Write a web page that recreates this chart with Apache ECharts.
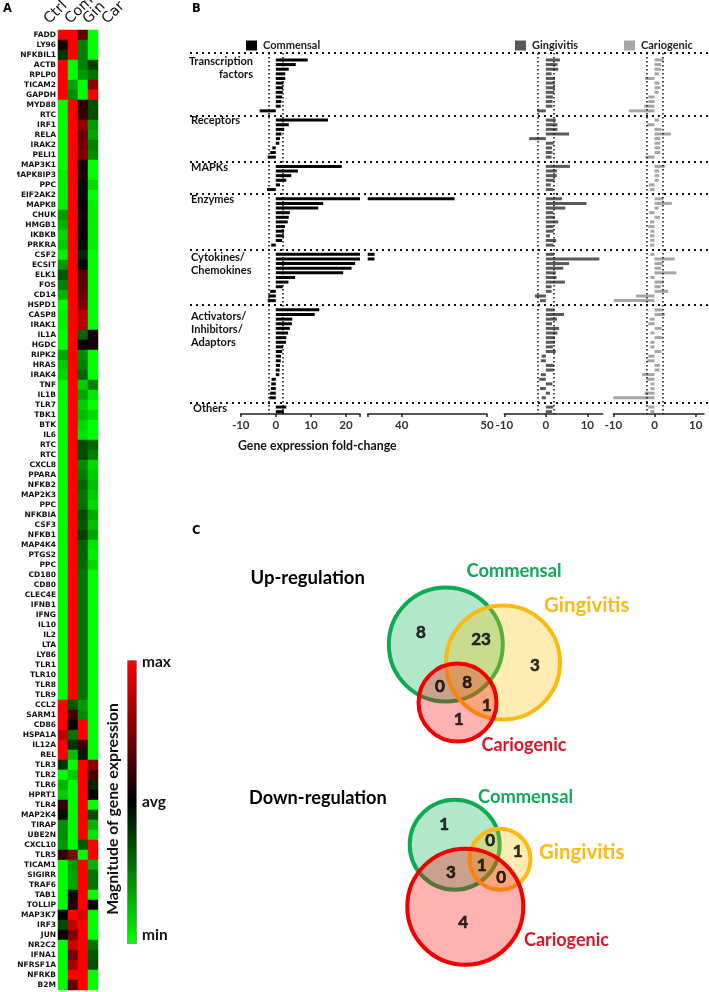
<!DOCTYPE html>
<html><head><meta charset="utf-8">
<style>html,body{margin:0;padding:0;background:#fff}#c{width:709px;height:992px}</style>
<script src="https://cdn.jsdelivr.net/npm/echarts@6/dist/echarts.min.js"></script>
</head><body><div id="c"></div>
<script>
// ---------- Panel A data ----------
const columns = ['Ctrl','Com','Gin','Car'];
const genes = ['FADD','LY96','NFKBIL1','ACTB','RPLP0','TICAM2','GAPDH','MYD88','RTC','IRF1','RELA','IRAK2','PELI1','MAP3K1','MAPK8IP3','PPC','EIF2AK2','MAPK8','CHUK','HMGB1','IKBKB','PRKRA','CSF2','ECSIT','ELK1','FOS','CD14','HSPD1','CASP8','IRAK1','IL1A','HGDC','RIPK2','HRAS','IRAK4','TNF','IL1B','TLR7','TBK1','BTK','IL6','RTC','RTC','CXCL8','PPARA','NFKB2','MAP2K3','PPC','NFKBIA','CSF3','NFKB1','MAP4K4','PTGS2','PPC','CD180','CD80','CLEC4E','IFNB1','IFNG','IL10','IL2','LTA','LY86','TLR1','TLR10','TLR8','TLR9','CCL2','SARM1','CD86','HSPA1A','IL12A','REL','TLR3','TLR2','TLR6','HPRT1','TLR4','MAP2K4','TIRAP','UBE2N','CXCL10','TLR5','TICAM1','SIGIRR','TRAF6','TAB1','TOLLIP','MAP3K7','IRF3','JUN','NR2C2','IFNA1','NFRSF1A','NFRKB','B2M'];
const ctrl = [1,.1,-.2,1,1,1,1,-1,-1,-1,-1,-1,-1,-1,-.95,-.95,-.95,-.95,-.6,-.7,-.85,-.8,-.95,-.6,-.35,-.5,-.7,-1,-.95,-.95,-1,-1,-.65,-.8,-.85,-1,-1,-1,-1,-1,-1,-1,-1,-1,-1,-1,-1,-1,-1,-1,-1,-1,-1,-1,-1,-1,-1,-1,-1,-1,-1,-1,-1,-1,-1,-1,-1,1,1,1,.75,1,1,-.2,-1,-.7,-.8,.2,-.05,-.55,-.55,-.6,.2,-1,-1,-1,-1,-1,0,-.3,-.02,-1,-1,-1,-1,-1];
const com = [1,1,1,-1,-1,-.65,-.55,1,1,1,1,1,1,1,1,1,1,1,1,1,1,1,1,1,1,1,1,1,1,1,1,1,1,1,1,1,1,1,1,1,1,1,1,1,1,1,1,1,1,1,1,1,1,1,1,1,1,1,1,1,1,1,1,1,1,1,1,-.35,.25,.02,-.45,-.2,-.75,-1,-.8,-1,-1,-1,-1,-1,-1,-1,.5,-.6,-.65,-.65,-.05,.15,1,.75,.5,.8,.45,.65,1,.4];
const gin = [.35,-.5,-.5,-.5,-.6,-1,-1,.15,.2,.55,.4,.45,.5,.08,.12,-.05,-.05,0,.08,.05,.03,-.05,-.15,-.02,.35,.35,.4,.5,.7,.7,-.4,.05,-.55,-.5,-.4,-.8,-.65,-.8,-.75,-.85,-.9,-.3,-.3,-.55,-.5,-.4,-.45,-.45,-.3,-.35,-.25,-.4,-.4,-.42,-.45,-.45,-.45,-.45,-.45,-.45,-.45,-.45,-.45,-.45,-.45,-.45,-.45,-.6,-.55,1,1,.25,-.1,1,1,1,1,1,1,1,1,-.35,-1,1,1,1,1,1,.85,1,1,1,1,1,1,1];
const car = [-1,-1,-1,-.25,-.45,.55,1,-.3,-.3,-.6,-.65,-.5,-.55,-1,-1,-.85,-1,-.95,-.95,-.95,-.95,-.95,-1,-1,-1,-1,-1,-1,-1,-1,.08,.1,-1,-1,-1,-.5,-.9,-1,-.85,-1,-1,-.4,-.5,-.85,-.8,-.75,-.8,-.85,-.65,-.75,-.65,-.9,-.95,-.85,-1,-1,-1,-1,-1,-1,-1,-1,-1,-1,-1,-1,-1,-1,-1,-1,-1,-1,-1,.55,.3,-.15,0,-1,-.3,-.7,-.9,1,1,-.7,-.45,-.45,-1,-.02,-1,-1,-1,-.45,-.35,-.3,-1,-1];

// ---------- Panel B data ----------
const groupNames = ['Transcription factors','Receptors','MAPKs','Enzymes','Cytokines/Chemokines','Activators/Inhibitors/Adaptors','Others'];
const groupSizes = [12,9,6,11,11,20,2];
const commensal = [9.1,5.7,3.7,2.7,2.7,2.2,2.1,2,1.8,1.6,1.4,-4.6, 14.9,3.7,2.4,1.6,1.2,1,-1,-1.6,-2.3, 18.8,6.3,4.4,3,1.2,-2.5, 46.2,13.5,12.1,4,3.7,3.4,2.6,2.4,2.3,1.8,-1.3, 36.8,36.8,22.6,21.6,19.2,5.5,3.6,2,-1.6,-2.1,-2.3, 12.4,11.1,4.7,4.6,4,3.5,3,2.9,2.1,1.8,1.5,1.4,1.2,1.1,1,-1.2,-1.3,-1.4,-1.6,-1.8, 3,2.3];
const gingivitis = [3.4,2.8,3,1.4,2.2,2.2,2.2,2,1.7,1.6,1.6,-2.1, 2.4,2.8,2.8,5.6,-4,1.9,1.5,1.6,1.4, 5.8,2.7,2.65,2.1,1.2,1.8, 3.9,9.8,4.7,1.8,2.2,3,1.8,1.9,1,2.5,1.8, 2,12.9,5.6,4.2,2.4,2.6,4.6,1.4,1.4,-2.6,-1.4, 2.1,4.4,2.7,1.5,3.2,2.8,2.2,2.2,1.7,2.4,-1,-1.2,1.9,1.9,-1.2,-1.6,1.6,-1.4,1,-1, 1.8,1.5];
const cariogenic = [2.2,1.6,1.5,1.1,-2.3,1.2,1.4,1,-1.5,-1.5,-2.5,-6.2, 1.1,-1.8,1.7,4,1.4,1.4,1.4,1.4,-2.2, 2.5,1.1,1.1,1,-1.4,-1.1, 2.1,4.2,1,-1.3,1.3,-1.1,-1.5,-1,-1.1,-1,-1.1, -1,4.9,2,1.6,5.3,-1,2.2,1.5,3.3,-4.5,-9.9, 1.9,2.5,-1.2,-1.5,1.7,-1,1.8,-1,-1,1.7,-1.5,-1.8,1.3,1.2,-3,-1.9,-1,-1,-2.4,-10, -1.5,-1];
const foldThreshold = 2;

// ---------- Panel C data ----------
const vennSets = ['Commensal','Gingivitis','Cariogenic'];
const vennUpCounts = [8,23,3,0,8,1,1];
const vennDownCounts = [1,0,1,3,1,0,4];

// ---------- Helpers ----------
const LATO = 'Lato, "Open Sans", sans-serif';
const heatData = [];
genes.forEach((g,i)=>{[ctrl,com,gin,car].forEach((s,j)=>heatData.push([j,i,s[i]]));});

const slots = [''];
const sepValues = [0];
let cursor = 1;
groupSizes.forEach((n,gi)=>{
  for(let k=0;k<n;k++) slots.push('r'+(slots.length));
  cursor += n;
  if(gi<groupSizes.length-1){ slots.push('gap'+gi); sepValues.push(cursor+.5); cursor++; }
});
function slotted(values){
  const out=[null]; let p=0;
  groupSizes.forEach((n,gi)=>{
    for(let k=0;k<n;k++) out.push(values[p++]);
    if(gi<groupSizes.length-1) out.push(null);
  });
  return out;
}
const barGrids = [
  {left:240.7,width:119.3,min:-10,max:24,ticks:[-10,0,10,20,24],labels:[-10,0,10,20],data:commensal,name:'Commensal',color:'#000',lines:true},
  {left:367.7,width:119.3,min:36,max:50,ticks:[36,40,50],labels:[40,50],data:commensal,name:'Commensal',color:'#000',lines:false},
  {left:504.3,width:98.4,min:-10,max:13.7,ticks:[-10,0,10],labels:[-10,0,10],data:gingivitis,name:'Gingivitis',color:'#595959',lines:true},
  {left:613.3,width:90.7,min:-10,max:12,ticks:[-10,0,10],labels:[-10,0,10],data:cariogenic,name:'Cariogenic',color:'#a6a6a6',lines:true}
];
const TOP=53, HEIGHT=361;

const grid=[{left:58,top:30,width:40,height:960}];
const xAxis=[{type:'category',gridIndex:0,data:columns,show:false}];
const yAxis=[{type:'category',gridIndex:0,data:genes,inverse:true,axisLine:{show:false},axisTick:{show:false},
  axisLabel:{interval:0,margin:2,fontFamily:'"DejaVu Sans"',fontWeight:'bold',fontSize:7.5,color:'#111'}}];
const series=[{type:'heatmap',name:'expression',xAxisIndex:0,yAxisIndex:0,data:heatData,silent:true,progressive:0,z:1}];

barGrids.forEach((b,i)=>{
  const gi=i+1;
  grid.push({left:b.left,top:TOP,width:b.width,height:HEIGHT});
  xAxis.push({type:'value',gridIndex:gi,min:b.min,max:b.max,position:'bottom',splitLine:{show:false},
    axisLine:{show:true,onZero:false,lineStyle:{color:'#222',width:1.5}},
    axisTick:{show:true,length:3,customValues:b.ticks,lineStyle:{color:'#222',width:1.5}},
    axisLabel:{customValues:b.labels,margin:5,fontFamily:LATO,fontWeight:'bold',fontSize:11.5,color:'#333',showMinLabel:true,showMaxLabel:true}});
  yAxis.push({type:'category',gridIndex:gi,data:slots,inverse:true,show:false});
  const s={type:'bar',name:b.name,xAxisIndex:gi,yAxisIndex:gi,data:slotted(b.data),barWidth:3,
    itemStyle:{color:b.color},silent:true,clip:true,z:2};
  if(b.lines) s.markLine={silent:true,symbol:'none',label:{show:false},animation:false,
    lineStyle:{type:[1.5,2.5],width:1.5,color:'#111'},
    data:[{xAxis:-foldThreshold},{xAxis:foldThreshold}]};
  series.push(s);
});

grid.push({left:190,right:0,top:TOP,height:HEIGHT});
xAxis.push({type:'value',gridIndex:5,min:0,max:1,show:false});
yAxis.push({type:'value',gridIndex:5,min:0,max:slots.length,inverse:true,show:false});
series.push({type:'line',name:'separators',xAxisIndex:5,yAxisIndex:5,data:[[0,0]],symbol:'none',silent:true,z:3,
  markLine:{silent:true,symbol:'none',label:{show:false},animation:false,
    lineStyle:{type:[2,4],width:2,color:'#111'},
    data:sepValues.map(v=>({yAxis:v}))}});

grid.push({left:0,top:0,width:709,height:992});
xAxis.push({type:'value',gridIndex:6,min:0,max:709,show:false});
yAxis.push({type:'value',gridIndex:6,min:0,max:992,inverse:true,show:false});
const vennColors={Commensal:['rgba(0,176,80,0.3)','#0caa52'],Gingivitis:['rgba(255,192,0,0.3)','#fdb913'],Cariogenic:['rgba(255,0,0,0.3)','#f00000']};
const vennCircles=[
  ['Commensal',445.8,644.5,114],['Gingivitis',503,662.5,114],['Cariogenic',457.5,702.5,78],
  ['Commensal',454.7,844.7,90],['Gingivitis',500,859.3,61],['Cariogenic',465.3,906.7,116]
];
series.push({type:'scatter',name:'venn',xAxisIndex:6,yAxisIndex:6,silent:true,clip:false,z:4,
  symbolSize:d=>d[2],
  data:vennCircles.map(c=>({value:[c[1],c[2],c[3]],itemStyle:{color:vennColors[c[0]][0],borderColor:vennColors[c[0]][1],borderWidth:4,opacity:1}}))});
const vennSpots=[[421,632.3],[481,640],[535,666],[440,686.7],[467.3,682.7],[486.7,705.3],[458.7,720]];
const vennSpotsDown=[[444.3,825],[490.3,840.7],[517.7,851.7],[451,872.3],[481.7,865.7],[501.3,877.3],[463.3,922.7]];
series.push({type:'scatter',name:'venn counts',xAxisIndex:6,yAxisIndex:6,silent:true,clip:false,z:5,symbolSize:1,
  itemStyle:{color:'rgba(0,0,0,0)'},
  label:{show:true,position:'inside',formatter:p=>String(p.value[2]),fontFamily:LATO,fontWeight:'bold',fontSize:17,color:'#000',textBorderColor:'#000',textBorderWidth:0.6},
  data:vennSpots.map((s,i)=>[s[0],s[1],vennUpCounts[i]]).concat(vennSpotsDown.map((s,i)=>[s[0],s[1],vennDownCounts[i]]))});

function T(text,x,y,o){
  o=o||{};
  return {type:'text',x,y,rotation:o.rot||0,z:o.z||20,silent:true,style:{text,fill:o.fill||'#111',
    fontFamily:o.family||LATO,fontWeight:o.weight||'bold',fontSize:o.size||11,
    textAlign:o.align||'left',textVerticalAlign:'middle',align:o.align||'left',verticalAlign:'middle'}};
}
const headerX=[52,73,91,110];
const gfx=[
  {type:'rect',silent:true,z:50,shape:{x:0,y:170,width:17,height:10},style:{fill:'#fff'}},
  T('A',3,9.5,{family:'"DejaVu Sans"',size:11.5,fill:'#000'}),
  T('B',192,9,{family:'"DejaVu Sans"',size:11.5,fill:'#000'}),
  T('C',192,531,{family:'"DejaVu Sans"',size:11.5,fill:'#000'}),
  T('max',142,662,{size:15.5}),T('avg',142,801.5,{size:15.5}),T('min',142,935,{size:15.5}),
  T('Magnitude of gene expression',113,809,{rot:Math.PI/2,align:'center',size:15.8}),
  T('Transcription',253,61,{align:'right'}),T('factors',253,74,{align:'right'}),
  T('Receptors',191,120),T('MAPKs',191,167),T('Enzymes',191,199),
  T('Cytokines/',191,257),T('Chemokines',191,270),
  T('Activators/',191,316),T('Inhibitors/',191,329),T('Adaptors',191,342),
  T('Others',193,408),
  T('Gene expression fold-change',238,446,{size:12.3}),
  T('Up-regulation',250.5,578,{size:18.5,fill:'#000'}),
  T('Down-regulation',249,798,{size:18.2,fill:'#000'}),
  T(vennSets[0],466.5,571,{size:18.3,fill:'#0fa958'}),
  T(vennSets[1],544,605,{size:20.4,fill:'#fdb913'}),
  T(vennSets[2],481.5,745,{size:18,fill:'#d6182a'}),
  T(vennSets[0],478,797,{size:18.3,fill:'#0fa958'}),
  T(vennSets[1],539,852,{size:20.4,fill:'#fdb913'}),
  T(vennSets[2],524,940,{size:18,fill:'#d6182a'})
];
columns.forEach((c,i)=>{
  gfx.push({type:'text',x:headerX[i],y:27,rotation:Math.PI/4,z:20,silent:true,
    style:{text:c,fill:'#111',fontFamily:'"DejaVu Sans"',fontSize:14.5,textAlign:'left',textVerticalAlign:'bottom',align:'left',verticalAlign:'bottom'}});
});

const legendAt=[['Commensal',246],['Gingivitis',515],['Cariogenic',624]];
const chart=echarts.init(document.getElementById('c'),null,{renderer:'canvas'});
chart.setOption({
  animation:false,
  backgroundColor:'#fff',
  grid,xAxis,yAxis,series,
  legend:legendAt.map(l=>({data:[l[0]],left:l[1],top:40,padding:0,itemWidth:11,itemHeight:10,itemGap:0,icon:'rect',selectedMode:false,
    textStyle:{fontFamily:LATO,fontWeight:'bold',fontSize:11,color:'#222',padding:[0,0,0,1]}})),
  visualMap:{type:'continuous',seriesIndex:0,min:-1,max:1,left:127,top:660,padding:0,itemWidth:9,itemHeight:283,calculable:false,hoverLink:false,
    borderColor:'#888',borderWidth:1,
    inRange:{color:['#00ff00','#000000','#ff0000']},textStyle:{fontSize:0}},
  graphic:{elements:gfx}
});
</script></body></html>
